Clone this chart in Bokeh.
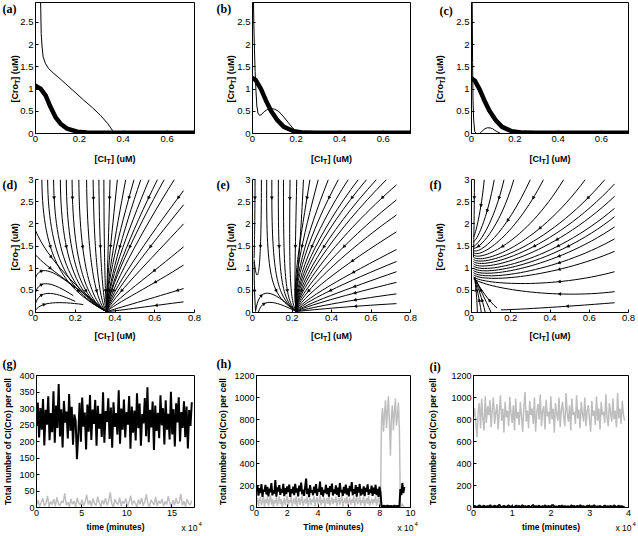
import math
import numpy as np
from bokeh.plotting import figure
from bokeh.layouts import column, row
from bokeh.models import Label, Range1d, FixedTicker
from bokeh.embed import file_html
from bokeh.resources import INLINE

# ---------------- data: top row (nullclines) ----------------
a_thick_x = [0, 0.005, 0.023, 0.046, 0.068, 0.091, 0.114, 0.144, 0.19, 0.235, 0.3, 0.45, 0.6, 0.725]
a_thick_y = [1.08, 1.06, 1.01, 0.86, 0.6, 0.37, 0.22, 0.11, 0.04, 0.02, 0.015, 0.015, 0.015, 0.015]
a_thin_x = [0.022, 0.024, 0.026, 0.03, 0.035, 0.046, 0.06, 0.084, 0.115, 0.144, 0.18, 0.22, 0.26, 0.296, 0.33, 0.35, 0.357, 0.5, 0.725]
a_thin_y = [3.2, 2.8, 2.25, 1.95, 1.72, 1.57, 1.46, 1.35, 1.22, 1.09, 0.93, 0.75, 0.58, 0.41, 0.22, 0.075, 0.015, 0.015, 0.015]

b_thick_x = [0, 0.015, 0.038, 0.061, 0.084, 0.114, 0.144, 0.19, 0.235, 0.3, 0.45, 0.6, 0.725]
b_thick_y = [1.25, 1.2, 1.01, 0.75, 0.52, 0.3, 0.15, 0.05, 0.02, 0.015, 0.015, 0.015, 0.015]
b_thin_x = [0.004, 0.006, 0.009, 0.012, 0.016, 0.02, 0.025, 0.032, 0.04, 0.053, 0.068, 0.084, 0.1, 0.12, 0.144, 0.165, 0.185, 0.2, 0.213]
b_thin_y = [3.2, 2.5, 1.9, 1.4, 0.95, 0.62, 0.46, 0.41, 0.42, 0.49, 0.54, 0.56, 0.55, 0.5, 0.37, 0.24, 0.12, 0.05, 0.015]

c_thick_x = [0, 0.015, 0.037, 0.06, 0.082, 0.112, 0.141, 0.186, 0.238, 0.3, 0.45, 0.6, 0.725]
c_thick_y = [1.24, 1.19, 1.0, 0.74, 0.52, 0.3, 0.15, 0.05, 0.02, 0.015, 0.015, 0.015, 0.015]
c_thin_x = [0.003, 0.004, 0.005, 0.007, 0.01, 0.015, 0.022, 0.037, 0.045, 0.052, 0.063, 0.074, 0.086, 0.097, 0.108, 0.119, 0.134]
c_thin_y = [3.2, 2.4, 1.6, 0.74, 0.3, 0.04, 0.0, 0.0, 0.03, 0.07, 0.11, 0.13, 0.125, 0.11, 0.07, 0.04, 0.0]

# ---------------- data: middle row (streamlines as cubic Bezier curves) ----------------
d_sx = [0.0, 0.032, 0.061, 0.091, 0.125, 0.155, 0.184, 0.218, 0.257, 0.29, 0.319, 0.344,
        0.375, 0.412, 0.454, 0.496, 0.53, 0.572, 0.614, 0.648, 0.699, 0.745, 0.745, 0.745, 0.745, 0.745, 0.745, 0.745,
        0.0, 0.0, 0.0, 0.0, 0.0]
d_sy = [1.85, 3.0, 3.0, 3.0, 3.0, 3.0, 3.0, 3.0, 3.0, 3.0, 3.0, 3.0,
        3.0, 3.0, 3.0, 3.0, 3.0, 3.0, 3.0, 3.0, 3.0, 2.75, 2.43, 2.0, 1.48, 1.07, 0.54, 0.24,
        1.3, 0.78, 0.45, 0.2, 0.05]
d_c1x = [0.06, 0.035, 0.065, 0.095, 0.128, 0.158, 0.187, 0.222, 0.262, 0.295, 0.322, 0.345,
         0.368, 0.38, 0.40, 0.42, 0.44, 0.46, 0.48, 0.50, 0.53, 0.56, 0.57, 0.58, 0.59, 0.6, 0.6, 0.6,
         0.06, 0.02, 0.02, 0.02, 0.03]
d_c1y = [1.2, 1.2, 1.1, 1.0, 0.95, 0.9, 0.85, 0.8, 0.8, 0.8, 1.0, 1.2,
         1.6, 1.6, 1.7, 1.8, 1.8, 1.8, 1.8, 1.8, 1.8, 1.65, 1.45, 1.2, 0.9, 0.65, 0.34, 0.16,
         1.0, 1.05, 0.75, 0.5, 0.25]
d_c2x = [0.22, 0.15, 0.19, 0.22, 0.24, 0.26, 0.28, 0.30, 0.32, 0.335, 0.345, 0.352,
         0.358, 0.355, 0.355, 0.355, 0.36, 0.36, 0.365, 0.365, 0.37, 0.37, 0.375, 0.38, 0.385, 0.39, 0.4, 0.42,
         0.2, 0.08, 0.08, 0.08, 0.12]
d_c2y = [0.5, 0.5, 0.4, 0.35, 0.3, 0.25, 0.2, 0.18, 0.15, 0.15, 0.2, 0.3,
         0.6, 0.6, 0.6, 0.6, 0.55, 0.55, 0.5, 0.5, 0.45, 0.4, 0.35, 0.3, 0.22, 0.17, 0.08, 0.04,
         0.6, 1.0, 0.7, 0.5, 0.25]
d_ex = [0.358, 0.358, 0.358, 0.358, 0.358, 0.358, 0.358, 0.358, 0.358, 0.358, 0.358, 0.358,
        0.358, 0.358, 0.358, 0.358, 0.358, 0.358, 0.358, 0.358, 0.358, 0.358, 0.358, 0.358, 0.358, 0.358, 0.358, 0.358,
        0.33, 0.2, 0.19, 0.2, 0.24]
d_ey = [0.02, 0.02, 0.02, 0.02, 0.02, 0.02, 0.02, 0.02, 0.02, 0.02, 0.02, 0.02,
        0.02, 0.02, 0.02, 0.02, 0.02, 0.02, 0.02, 0.02, 0.02, 0.02, 0.02, 0.02, 0.02, 0.02, 0.02, 0.02,
        0.12, 0.55, 0.38, 0.25, 0.18]

e_sx = [0.013, 0.045, 0.015, 0.015, 0.03, 0.072, 0.098, 0.131, 0.157, 0.19, 0.224, 0.258,
        0.291, 0.333, 0.384, 0.435, 0.485, 0.536, 0.578, 0.628, 0.679, 0.729,
        0.729, 0.729, 0.729, 0.729, 0.729, 0.729, 0.729, 0.729, 0.729]
e_sy = [3.0, 3.0, 0.05, 0.02, 0.01, 3.0, 3.0, 3.0, 3.0, 3.0, 3.0, 3.0,
        3.0, 3.0, 3.0, 3.0, 3.0, 3.0, 3.0, 3.0, 3.0, 2.88,
        2.54, 2.2, 1.82, 1.42, 1.15, 0.92, 0.68, 0.42, 0.2]
e_c1x = [0.012, 0.045, 0.01, 0.035, 0.05, 0.068, 0.095, 0.128, 0.155, 0.185, 0.215, 0.24,
         0.24, 0.25, 0.27, 0.29, 0.31, 0.33, 0.35, 0.38, 0.41, 0.44,
         0.45, 0.46, 0.47, 0.48, 0.48, 0.49, 0.49, 0.49, 0.49]
e_c1y = [2.0, 0.5, 0.4, 0.6, 0.3, 0.6, 0.7, 0.7, 0.7, 0.8, 1.0, 1.2,
         1.6, 1.6, 1.7, 1.8, 1.8, 1.8, 1.8, 1.8, 1.8, 1.75,
         1.55, 1.35, 1.1, 0.85, 0.7, 0.55, 0.42, 0.28, 0.14]
e_c2x = [0.01, 0.02, 0.008, 0.09, 0.1, 0.1, 0.13, 0.15, 0.17, 0.19, 0.21, 0.215,
         0.2, 0.2, 0.2, 0.2, 0.205, 0.205, 0.21, 0.21, 0.215, 0.215,
         0.22, 0.225, 0.23, 0.235, 0.24, 0.245, 0.25, 0.26, 0.27]
e_c2y = [1.5, 0.6, 0.8, 0.55, 0.3, 0.4, 0.35, 0.3, 0.25, 0.25, 0.3, 0.4,
         0.6, 0.6, 0.6, 0.6, 0.6, 0.55, 0.55, 0.5, 0.5, 0.45,
         0.4, 0.35, 0.3, 0.25, 0.2, 0.15, 0.12, 0.08, 0.05]
e_ex = [0.008, 0.008, 0.008, 0.222, 0.222, 0.222, 0.222, 0.222, 0.222, 0.222, 0.222, 0.222,
        0.222, 0.222, 0.222, 0.222, 0.222, 0.222, 0.222, 0.222, 0.222, 0.222,
        0.222, 0.222, 0.222, 0.222, 0.222, 0.222, 0.222, 0.222, 0.222]
e_ey = [1.22, 1.2, 1.15, 0.02, 0.02, 0.02, 0.02, 0.02, 0.02, 0.02, 0.02, 0.02,
        0.02, 0.02, 0.02, 0.02, 0.02, 0.02, 0.02, 0.02, 0.02, 0.02,
        0.02, 0.02, 0.02, 0.02, 0.02, 0.02, 0.02, 0.02, 0.02]

f_sx = [0.015, 0.065, 0.116, 0.166, 0.216, 0.30, 0.367, 0.47, 0.58, 0.68,
        0.729, 0.729, 0.729, 0.729, 0.729, 0.729, 0.729, 0.729, 0.729, 0.729,
        0.03, 0.05, 0.07, 0.1, 0.13]
f_sy = [3.0, 3.0, 3.0, 3.0, 3.0, 3.0, 3.0, 3.0, 3.0, 3.0,
        2.9, 2.62, 2.35, 2.16, 1.93, 1.66, 1.38, 0.92, 0.47, 0.22,
        0.0, 0.0, 0.0, 0.0, 0.1]
f_c1x = [0.014, 0.05, 0.08, 0.11, 0.14, 0.17, 0.21, 0.27, 0.32, 0.37,
         0.4, 0.4, 0.41, 0.42, 0.42, 0.42, 0.42, 0.42, 0.42, 0.45,
         0.028, 0.04, 0.055, 0.07, 0.09]
f_c1y = [2.2, 2.3, 2.1, 1.95, 1.85, 1.75, 1.65, 1.55, 1.45, 1.4,
         1.35, 1.25, 1.15, 1.08, 1.0, 0.9, 0.8, 0.55, 0.3, 0.12,
         0.3, 0.3, 0.3, 0.3, 0.25]
f_c2x = [0.012, 0.02, 0.025, 0.03, 0.035, 0.04, 0.04, 0.045, 0.05, 0.05,
         0.055, 0.055, 0.06, 0.06, 0.06, 0.065, 0.065, 0.07, 0.08, 0.2,
         0.022, 0.025, 0.03, 0.035, 0.04]
f_c2y = [1.6, 1.75, 1.6, 1.5, 1.42, 1.3, 1.22, 1.15, 1.08, 1.02,
         0.96, 0.9, 0.85, 0.8, 0.75, 0.7, 0.66, 0.62, 0.55, 0.06,
         0.6, 0.6, 0.6, 0.6, 0.55]
f_ex = [0.01, 0.01, 0.01, 0.01, 0.01, 0.01, 0.01, 0.01, 0.01, 0.01,
        0.01, 0.01, 0.01, 0.01, 0.01, 0.01, 0.01, 0.01, 0.01, 0.15,
        0.015, 0.015, 0.015, 0.015, 0.015]
f_ey = [1.25, 1.7, 1.6, 1.5, 1.45, 1.4, 1.35, 1.3, 1.25, 1.2,
        1.15, 1.1, 1.05, 1.0, 0.95, 0.9, 0.85, 0.8, 0.76, 0.06,
        0.8, 0.8, 0.8, 0.8, 0.8]

arrow_levels = [2.6, 1.5, 0.5]   # rows of arrowheads (seed heights), used in turn by the streamlines

# ---------------- data: bottom row (stochastic time series) ----------------
g_ci = [248, 318, 212, 301, 236, 329, 188, 296, 251, 337, 204, 286, 228, 352, 196, 309, 241, 374, 215, 298,
        182, 323, 257, 291, 209, 344, 233, 305, 190, 282, 262, 146, 221, 317, 199, 333, 245, 288, 176, 312,
        230, 341, 205, 297, 253, 326, 187, 308, 239, 284, 214, 349, 196, 292, 259, 331, 208, 303, 181, 319,
        244, 286, 221, 355, 193, 300, 236, 327, 212, 289, 251, 338, 178, 306, 227, 294, 203, 346, 240, 315,
        187, 283, 255, 332, 216, 364, 198, 296, 243, 321, 174, 309, 232, 287, 210, 340, 249, 301, 191, 325,
        236, 284, 206, 351, 221, 298, 185, 316, 258, 334, 200, 289, 241, 322, 213, 306, 179, 295, 247, 319]
g_cro = [8, 22, 3, 15, 28, 5, 12, 35, 2, 18, 9, 25, 4, 31, 11, 6, 20, 14, 43, 7,
         16, 3, 26, 10, 19, 2, 29, 13, 8, 24, 5, 17, 38, 9, 21, 4, 27, 12, 6, 33,
         15, 2, 22, 10, 28, 7, 18, 46, 11, 3, 25, 14, 9, 30, 5, 19, 12, 27, 4, 16,
         36, 8, 21, 13, 2, 24, 10, 29, 6, 17, 40, 11, 3, 23, 15, 8, 32, 5, 20, 12,
         26, 4, 18, 9, 34, 14, 2, 22, 7, 28, 11, 16, 41, 6, 19, 3, 25, 13, 8, 21]
g_tmax = 17.2

h_ci = [152, 198, 108, 176, 131, 212, 96, 163, 144, 205, 118, 187, 102, 171, 139, 221, 110, 158, 127, 249,
        99, 184, 146, 203, 115, 169, 134, 215, 104, 177, 122, 193, 141, 208, 97, 166, 129, 189, 113, 216,
        137, 174, 101, 199, 148, 227, 119, 162, 106, 185, 263, 123, 171, 94, 204, 138, 157, 112, 191, 130,
        213, 107, 168, 145, 236, 116, 182, 100, 159, 133, 207, 121, 176, 98, 194, 142, 218, 109, 165, 126,
        201, 114, 180, 96, 223, 139, 161, 105, 188, 128, 209, 117, 173, 102, 196, 147, 231, 111, 167, 124,
        203, 99, 185, 136, 214, 108, 170, 120, 192, 103, 178, 143, 210, 115, 164, 131, 198, 106, 181, 125,
        207, 112, 169, 97, 189, 134,
        12, 5, 18, 8, 15, 3, 20, 9, 14, 6, 17, 4, 11, 19, 7, 13, 10, 16, 5,
        168, 112, 223, 131, 187]
h_cro = [35, 88, 12, 64, 97, 20, 51, 105, 8, 73, 42, 94, 16, 59, 110, 27, 81, 5, 66, 39,
         92, 14, 57, 101, 31, 76, 9, 48, 87, 22, 63, 108, 18, 70, 44, 96, 11, 55, 83, 29,
         102, 7, 61, 90, 24, 68, 113, 15, 52, 79, 36, 99, 10, 58, 86, 21, 74, 47, 104, 13,
         65, 93, 26, 53, 118, 19, 71, 40, 95, 6, 60, 84, 33, 107, 17, 56, 89, 28, 77, 45,
         100, 12, 62, 91, 23, 67, 112, 8, 50, 82, 37, 97, 15, 57, 88, 25, 72, 43, 103, 11,
         64, 94, 30, 54, 109, 18, 69, 41, 98, 9, 59, 85, 34, 106, 16, 53, 80, 27, 75, 46,
         101, 14, 63, 92, 20, 66,
         780, 905, 690, 850, 975, 720, 880, 1010, 760, 470, 840, 930, 700, 865, 990, 745, 820, 955, 710,
         24, 8, 35, 12, 4]
h_tmax = 9.6

i_cro = [830, 905, 760, 640, 880, 950, 720, 990, 810, 700, 1010, 770, 920, 840, 980, 730, 890, 1000, 760, 860,
         940, 710, 870, 1020, 790, 900, 680, 960, 820, 880, 740, 1005, 850, 770, 930, 700, 990, 810, 870, 750,
         960, 830, 690, 910, 1050, 780, 880, 720, 970, 840, 900, 760, 1000, 690, 860, 940, 800, 1030, 740, 880,
         920, 710, 980, 830, 870, 760, 1010, 800, 900, 680, 950, 850, 790, 1000, 730, 890, 960, 820, 740, 1040,
         860, 780, 930, 700, 990, 840, 870, 760, 1020, 810, 890, 720, 960, 850, 780, 1000, 740, 880, 930, 800,
         690, 970, 830, 880, 750, 1010, 790, 900, 710, 960, 840, 870, 770, 1030, 820, 740, 950, 860, 780, 990,
         800, 880, 730, 1040, 810, 900, 760, 970, 840, 790]
i_ci = [6, 14, 2, 11, 20, 4, 9, 17, 1, 13, 7, 22, 3, 10, 16, 5, 12, 25, 2, 8,
        15, 4, 11, 19, 6, 13, 1, 9, 18, 5, 14, 3, 21, 8, 12, 2, 16, 7, 10, 24,
        4, 13, 6, 17, 1, 11, 9, 20, 3, 14, 7, 12, 23, 5, 10, 2, 15, 8, 18, 4,
        13, 6, 11, 1, 19, 9, 14, 3, 16, 7, 22, 5, 12, 2, 10, 17, 4, 13, 8, 21,
        3, 11, 6, 15, 1, 9, 18, 5, 12, 7, 14, 2, 20, 10, 4, 16, 8, 13, 3, 11]
i_tmax = 3.9

# ---------------- ticks ----------------
top_xticks = [0, 0.2, 0.4, 0.6]
top_xlabels = ["0", "0.2", "0.4", "0.6"]
top_yticks = [0, 0.5, 1, 1.5, 2, 2.5]
top_ylabels = ["0", "0.5", "1", "1.5", "2", "2.5"]
mid_xticks = [0, 0.2, 0.4, 0.6, 0.8]
mid_xlabels = ["0", "0.2", "0.4", "0.6", "0.8"]
mid_yticks = [0, 0.5, 1, 1.5, 2, 2.5, 3]
mid_ylabels = ["0", "0.5", "1", "1.5", "2", "2.5", "3"]
g_xticks = [0, 5, 10, 15]
g_xlabels = ["0", "5", "10", "15"]
g_yticks = [0, 50, 100, 150, 200, 250, 300, 350, 400]
g_ylabels = ["0", "50", "100", "150", "200", "250", "300", "350", "400"]
h_xticks = [0, 2, 4, 6, 8, 10]
h_xlabels = ["0", "2", "4", "6", "8", "10"]
hi_yticks = [0, 200, 400, 600, 800, 1000, 1200]
hi_ylabels = ["0", "200", "400", "600", "800", "1000", "1200"]
i_xticks = [0, 1, 2, 3, 4]
i_xlabels = ["0", "1", "2", "3", "4"]

panel_names = ["(a)", "(b)", "(c)", "(d)", "(e)", "(f)", "(g)", "(h)", "(i)"]

# ---------------- layout ----------------
COLS = [(35, 159, 21), (37, 158, 15), (46, 157, 8)]      # left border, frame width, right border
ROWS = [(2, 131, 39), (7, 133, 44), (19, 132, 27)]       # top border, frame height, bottom border
SANS = "Liberation Sans"
SERIF = "Liberation Serif"
GRAY = "#bebebe"
PAGE_W, PAGE_H = 636, 534


def col_x(c):
    return sum(COLS[k][0] + COLS[k][1] + COLS[k][2] for k in range(c))


def row_y(r):
    return sum(ROWS[k][0] + ROWS[k][1] + ROWS[k][2] for k in range(r))


def frame_box(c, r):
    left = col_x(c) + COLS[c][0]
    top = row_y(r) + ROWS[r][0]
    return left, top, COLS[c][1], ROWS[r][1]


def make_fig(c, r, xr, yr, box, xt, xl, yt, yl, tick_size):
    bl, fw, br = COLS[c]
    bt, fh, bb = ROWS[r]
    p = figure(width=bl + fw + br, height=bt + fh + bb,
               x_range=Range1d(*xr), y_range=Range1d(*yr),
               output_backend="svg", toolbar_location=None,
               min_border_left=bl, min_border_right=br,
               min_border_top=bt, min_border_bottom=bb)
    p.grid.visible = False
    p.background_fill_color = "white"
    p.border_fill_color = "white"
    p.outline_line_color = "black" if box else None
    p.outline_line_width = 1
    for ax, ticks, labels in ((p.xaxis[0], xt, xl), (p.yaxis[0], yt, yl)):
        ax.ticker = FixedTicker(ticks=ticks)
        ax.major_label_overrides = {float(v): s for v, s in zip(ticks, labels)}
        ax.major_tick_in = 3
        ax.major_tick_out = 0
        ax.minor_tick_line_color = None
        ax.axis_line_color = "black"
        ax.major_tick_line_color = "black"
        ax.major_label_text_font = SANS
        ax.major_label_text_font_size = tick_size
        ax.major_label_text_color = "black"
        ax.major_label_standoff = 2
    return p


def top_panel(c, tkx, tky, tnx, tny):
    p = make_fig(c, 0, (0, 0.725), (0, 2.95), True, top_xticks, top_xlabels, top_yticks, top_ylabels, "9.5px")
    p.line(tnx, tny, line_color="black", line_width=1)
    p.line(tkx, tky, line_color="black", line_width=4.5, line_join="round", line_cap="round")
    return p


def bez(Q, t):
    u = 1 - t
    x = u**3 * Q[0][0] + 3 * u * u * t * Q[1][0] + 3 * u * t * t * Q[2][0] + t**3 * Q[3][0]
    y = u**3 * Q[0][1] + 3 * u * u * t * Q[1][1] + 3 * u * t * t * Q[2][1] + t**3 * Q[3][1]
    dx = 3 * u * u * (Q[1][0] - Q[0][0]) + 6 * u * t * (Q[2][0] - Q[1][0]) + 3 * t * t * (Q[3][0] - Q[2][0])
    dy = 3 * u * u * (Q[1][1] - Q[0][1]) + 6 * u * t * (Q[2][1] - Q[1][1]) + 3 * t * t * (Q[3][1] - Q[2][1])
    return x, y, dx, dy


def mid_panel(c, sx, sy, c1x, c1y, c2x, c2y, ex, ey):
    xr, yr = (0, 0.8), (0, 3.0)
    p = make_fig(c, 1, xr, yr, False, mid_xticks, mid_xlabels, mid_yticks, mid_ylabels, "9.5px")
    p.bezier(x0=sx, y0=sy, x1=ex, y1=ey, cx0=c1x, cy0=c1y, cx1=c2x, cy1=c2y,
             line_color="black", line_width=1)
    kx = COLS[c][1] / (xr[1] - xr[0])
    ky = ROWS[1][1] / (yr[1] - yr[0])
    axs, ays, angs = [], [], []
    ts = np.linspace(0, 1, 241)
    for i in range(len(sx)):
        Q = [(sx[i], sy[i]), (c1x[i], c1y[i]), (c2x[i], c2y[i]), (ex[i], ey[i])]
        level = arrow_levels[i % len(arrow_levels)]
        t_hit = 0.3
        prev = bez(Q, 0.0)[1] - level
        for t in ts[1:]:
            cur = bez(Q, t)[1] - level
            if prev == 0 or prev * cur < 0:
                t_hit = t
                break
            prev = cur
        bx, by, dx, dy = bez(Q, t_hit)
        if 0 <= bx <= xr[1] and 0 <= by <= yr[1]:
            axs.append(bx)
            ays.append(by)
            angs.append(math.atan2(dy * ky, dx * kx) - math.pi / 2)
    p.scatter(axs, ays, marker="triangle", size=3, angle=angs,
              fill_color="black", line_color="black", line_width=0.5)
    return p


def bot_panel(c, xr, yr, xt, xl, yt, yl, tmax, ci, cro, xlabel, ystand):
    p = make_fig(c, 2, xr, yr, True, xt, xl, yt, yl, "9px")
    t_cro = np.linspace(0, tmax, len(cro))
    t_ci = np.linspace(0, tmax, len(ci))
    p.line(t_cro, cro, line_color=GRAY, line_width=1.5)
    p.line(t_ci, ci, line_color="black", line_width=2.0)
    p.xaxis.axis_label = xlabel
    p.yaxis.axis_label = "Total number of CI(Cro) per cell"
    for ax in (p.xaxis[0], p.yaxis[0]):
        ax.axis_label_text_font = SANS
        ax.axis_label_text_font_style = "bold"
        ax.axis_label_text_font_size = "8.5px"
        ax.axis_label_text_color = "black"
        ax.axis_label_standoff = 3
    p.yaxis[0].axis_label_standoff = ystand
    return p


pa = top_panel(0, a_thick_x, a_thick_y, a_thin_x, a_thin_y)
pb = top_panel(1, b_thick_x, b_thick_y, b_thin_x, b_thin_y)
pc = top_panel(2, c_thick_x, c_thick_y, c_thin_x, c_thin_y)
pd = mid_panel(0, d_sx, d_sy, d_c1x, d_c1y, d_c2x, d_c2y, d_ex, d_ey)
pe = mid_panel(1, e_sx, e_sy, e_c1x, e_c1y, e_c2x, e_c2y, e_ex, e_ey)
pf = mid_panel(2, f_sx, f_sy, f_c1x, f_c1y, f_c2x, f_c2y, f_ex, f_ey)
pg = bot_panel(0, (0, 17.5), (0, 400), g_xticks, g_xlabels, g_yticks, g_ylabels,
               g_tmax, g_ci, g_cro, "time (minutes)", 3)
ph = bot_panel(1, (0, 10), (0, 1200), h_xticks, h_xlabels, hi_yticks, hi_ylabels,
               h_tmax, h_ci, h_cro, "Time (minutes)", 3)
pi_ = bot_panel(2, (0, 4), (0, 1200), i_xticks, i_xlabels, hi_yticks, hi_ylabels,
                i_tmax, i_ci, i_cro, "time (minutes)", 10)

grid = column(row(pa, pb, pc), row(pd, pe, pf), row(pg, ph, pi_))

# ---------------- transparent text layer over the whole page (page pixel coordinates, y down) ----------------
ov = figure(width=PAGE_W, height=PAGE_H, x_range=Range1d(0, PAGE_W), y_range=Range1d(PAGE_H, 0),
            x_axis_type=None, y_axis_type=None, output_backend="svg", toolbar_location=None,
            min_border=0, outline_line_color=None,
            background_fill_alpha=0, border_fill_alpha=0,
            styles={"position": "absolute", "left": "0px", "top": "0px", "pointer-events": "none"})
ov.grid.visible = False


def txt(x, y, text, size, bold=True, font=SANS, baseline="alphabetic", angle=0.0):
    ov.add_layout(Label(x=x, y=y, text=text, text_font=font, text_font_size=f"{size}px",
                        text_font_style="bold" if bold else "normal", text_align="left",
                        text_baseline=baseline, angle=angle, text_color="black"))


XLAB_DY = [25, 23]          # x-label baseline below the frame
YLAB_DX = [-21, -22, -32]   # y-label baseline left of the frame
YLAB_SHIFT = [11, 1]        # y-label centre below the frame centre
for r in range(2):
    for c in range(3):
        L, T, W, H = frame_box(c, r)
        # [CI_T] (uM)
        left = L + W / 2 - 20.4
        yb = T + H + XLAB_DY[r]
        txt(left, yb, "[CI", 9)
        txt(left + 12.0, yb + 2.5, "T", 7)
        txt(left + 16.3, yb, "] (uM)", 9)
        # [Cro_T] (uM), rotated
        bx = L + YLAB_DX[c]
        ys = T + H / 2 + YLAB_SHIFT[r] + 23.6
        txt(bx, ys, "[Cro", 9, angle=math.pi / 2)
        txt(bx + 2.5, ys - 18.5, "T", 7, angle=math.pi / 2)
        txt(bx, ys - 22.8, "] (uM)", 9, angle=math.pi / 2)

LAB_POS = [(2, 1), (216, 1), (439, 3), (2, 177), (216, 177), (429, 177), (2, 356), (216, 356), (429, 359)]
for name, (lx, ly) in zip(panel_names, LAB_POS):
    txt(lx, ly, name, 12, font=SERIF, baseline="top")

for c in range(3):
    L, T, W, H = frame_box(c, 2)
    txt(L + W - 13, 527.5, "x 10", 8.5, bold=False)
    txt(L + W + 4, 523, "4", 6, bold=False)

open("out.html", "w").write(file_html([grid, ov], INLINE))
